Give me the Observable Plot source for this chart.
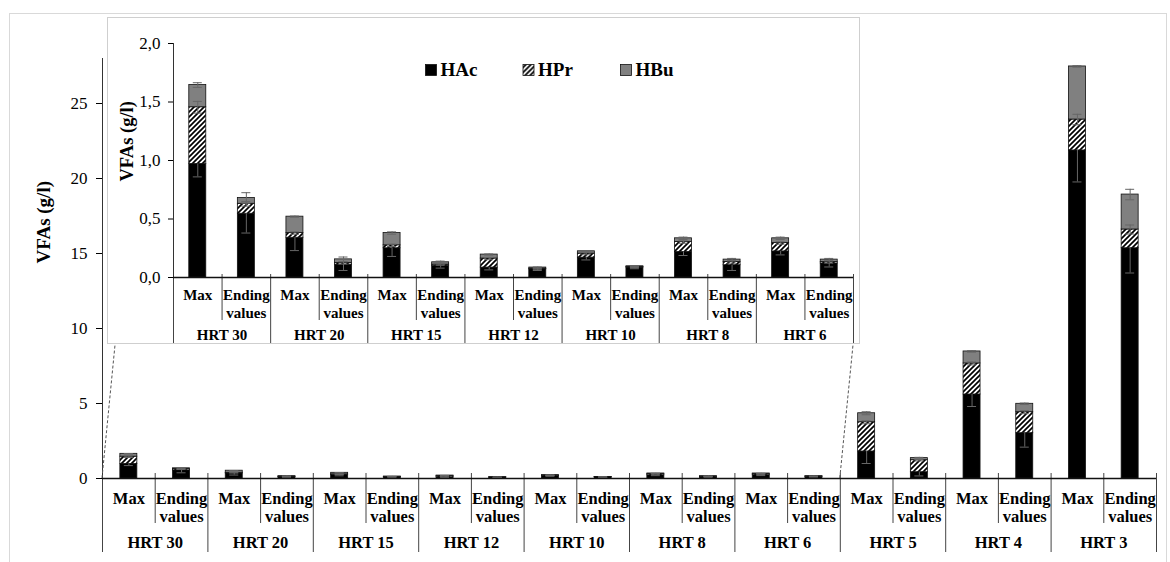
<!DOCTYPE html>
<html>
<head>
<meta charset="utf-8">
<script src="https://cdn.jsdelivr.net/npm/d3@7"></script>
<script src="https://cdn.jsdelivr.net/npm/@observablehq/plot@0.6"></script>
<style>
  body { margin: 0; background: #fff; }
  #wrap { position: relative; width: 1170px; height: 562px; overflow: hidden; font-family: "Liberation Serif", "DejaVu Serif", serif; }
  #wrap svg, #wrap svg text { font-family: "Liberation Serif", "DejaVu Serif", serif !important; }
  #frame { position: absolute; left: 9px; top: 13px; width: 1158px; height: 620px; border: 1px solid #d9d9d9; box-sizing: border-box; }
  #main { position: absolute; left: 0; top: 0; }
  #inset { position: absolute; left: 107px; top: 17px; width: 751px; height: 325px; border: 1px solid #cfcfcf; background: #fff; }
  #inset svg { display: block; }
  #legend { position: absolute; left: 317px; top: 40px; }
</style>
</head>
<body>
<svg width="0" height="0" style="position:absolute">
  <defs>
    <pattern id="hatch" patternUnits="userSpaceOnUse" width="5" height="5">
      <rect width="5" height="5" fill="#fff"></rect>
      <path d="M-1,1 l2,-2 M0,5 l5,-5 M4,6 l2,-2" stroke="#000" stroke-width="1.7"></path>
    </pattern>
  </defs>
</svg>
<div id="wrap">
  <div id="frame"></div>
  <div id="main"></div>
  <div id="inset"><div id="legend"></div></div>
</div>
<script>
// ---------- data ----------
const groups = ["HRT 30", "HRT 20", "HRT 15", "HRT 12", "HRT 10", "HRT 8", "HRT 6", "HRT 5", "HRT 4", "HRT 3"];
const subLabels = ["Max", "Ending\nvalues"];
const series = ["HAc", "HPr", "HBu"];
const seriesFill = ["#000000", "url(#hatch)", "#808080"];

// bars in order: group1 Max, group1 Ending, group2 Max, ...
const hac = [0.97, 0.545, 0.34, 0.11, 0.25, 0.10, 0.085, 0.07, 0.17, 0.085, 0.218, 0.105, 0.223, 0.12, 1.80, 0.42, 5.60, 3.02, 21.87, 15.35];
const hpr = [0.485, 0.085, 0.04, 0.015, 0.025, 0.01, 0.077, 0.005, 0.034, 0.005, 0.085, 0.028, 0.072, 0.013, 1.95, 0.80, 2.07, 1.40, 2.06, 1.25];
const hbu = [0.19, 0.05, 0.14, 0.03, 0.105, 0.02, 0.034, 0.01, 0.02, 0.006, 0.032, 0.02, 0.04, 0.02, 0.60, 0.14, 0.80, 0.56, 3.54, 2.33];

const errHac = [0.11, 0.165, 0.11, 0.05, 0.07, 0.02, 0.02, 0.01, 0.02, 0.01, 0.03, 0.045, 0.03, 0.03, 0.80, 0.25, 0.80, 0.93, 2.10, 1.65];
const errHpr = [0.05, 0.02, 0.01, 0.01, 0.01, 0.005, 0.01, 0.005, 0.01, 0.005, 0.01, 0.01, 0.01, 0.01, 0.10, 0.05, 0.10, 0.10, 0.35, 0.30];
const errHbu = [0.02, 0.045, 0.005, 0.02, 0.01, 0.01, 0.005, 0.005, 0.005, 0.005, 0.01, 0.01, 0.01, 0.01, 0.10, 0.05, 0.05, 0.05, 0.05, 0.35];
const errDirection = ["minus", "both", "both"];

const yTitle = "VFAs (g/l)";
const mainTicks = [0, 5, 10, 15, 20, 25];
const insetTicks = [0, 0.5, 1.0, 1.5, 2.0];
const insetGroupCount = 7;

// ---------- derived tables ----------
const values = [hac, hpr, hbu];
const errs = [errHac, errHpr, errHbu];
const nBars = groups.length * subLabels.length;
const segments = [], errorRows = [], capRows = [];
for (let i = 0; i < nBars; i++) {
  let base = 0;
  series.forEach((s, k) => {
    const top = base + values[k][i];
    segments.push({ i, series: s, y1: base, y2: top });
    const e = errs[k][i];
    const lo = top - e, hi = errDirection[k] === "minus" ? top : top + e;
    errorRows.push({ i, lo, hi });
    capRows.push({ i, v: lo });
    if (errDirection[k] !== "minus") capRows.push({ i, v: hi });
    base = top;
  });
}
const barLabels = d3.range(nBars).map(i => ({ i, text: subLabels[i % 2] }));
const groupLabels = groups.map((g, j) => ({ j, text: g }));

const fontFamily = "Liberation Serif, DejaVu Serif, serif";

function makeChart(cfg) {
  const n = cfg.nGroups * 2;
  const step = (cfg.width - cfg.marginLeft - cfg.marginRight) / n;
  const half = cfg.barPx / 2 / step;
  const capHalf = cfg.capPx / 2 / step;
  const frameH = cfg.height - cfg.marginTop - cfg.marginBottom;
  const segs = segments.filter(d => d.i < n);
  const ers = errorRows.filter(d => d.i < n && d.hi > d.lo);
  const caps = capRows.filter(d => d.i < n);
  const bounds = d3.range(0, n + 1);
  return Plot.plot({
    width: cfg.width, height: cfg.height,
    marginLeft: cfg.marginLeft, marginRight: cfg.marginRight,
    marginTop: cfg.marginTop, marginBottom: cfg.marginBottom,
    x: { domain: [0, n], axis: null },
    y: { domain: cfg.yDomain, axis: null },
    color: { type: "ordinal", domain: series, range: seriesFill },
    style: { fontFamily, fontSize: cfg.tickFont + "px", color: "#000", background: "transparent", overflow: "visible" },
    marks: [
      Plot.rect(segs, { x1: d => d.i + 0.5 - half, x2: d => d.i + 0.5 + half, y1: "y1", y2: "y2", fill: "series", stroke: "#111", strokeWidth: 0.8 }),
      Plot.ruleX(ers, { x: d => d.i + 0.5, y1: "lo", y2: "hi", stroke: "#666", strokeWidth: 1 }),
      Plot.ruleY(caps, { y: "v", x1: d => d.i + 0.5 - capHalf, x2: d => d.i + 0.5 + capHalf, stroke: "#666", strokeWidth: 1 }),
      // separators below the category axis
      Plot.ruleX(bounds.filter(b => b % 2 === 1), { x: d => d, insetTop: frameH - cfg.sepUp, insetBottom: -cfg.innerDown, stroke: "#444", strokeWidth: 1 }),
      Plot.ruleX(bounds.filter(b => b % 2 === 0), { x: d => d, insetTop: frameH - cfg.sepUp, insetBottom: -cfg.groupDown, stroke: "#444", strokeWidth: 1 }),
      Plot.ruleX([0], { stroke: "#333", strokeWidth: 1 }),
      Plot.ruleY([0], { stroke: "#111", strokeWidth: 1.5 }),
      Plot.axisY({ ticks: cfg.ticks, tickSize: cfg.tickSize, tickPadding: cfg.tickPadding, tickFormat: cfg.tickFormat, label: null, fontSize: cfg.tickFont }),
      Plot.text(barLabels.filter(d => d.i < n), { x: d => d.i + 0.5, text: "text", frameAnchor: "bottom", lineAnchor: "top", dy: cfg.subDy, lineHeight: cfg.lineHeight, fontWeight: "bold", fontSize: cfg.labelFont }),
      Plot.text(groupLabels.filter(d => d.j < cfg.nGroups), { x: d => d.j * 2 + 1, text: "text", frameAnchor: "bottom", lineAnchor: "top", dy: cfg.groupDy, fontWeight: "bold", fontSize: cfg.labelFont }),
      Plot.text([yTitle], { frameAnchor: "left", rotate: -90, dx: cfg.titleDx, dy: cfg.titleDy, fontWeight: "bold", fontSize: cfg.titleFont })
    ]
  });
}

const mainCfg = {
  nGroups: groups.length, width: 1170, height: 562,
  marginLeft: 102, marginRight: 14, marginTop: 58, marginBottom: 84,
  yDomain: [0, 28], ticks: mainTicks, tickFormat: d3.format("d"),
  tickSize: 6, tickPadding: 9, tickFont: 17,
  barPx: 17, capPx: 9,
  sepUp: 5, innerDown: 45, groupDown: 74,
  labelFont: 16.5, subDy: 12.3, lineHeight: 1.09, groupDy: 57.3,
  titleFont: 19, titleDx: -59, titleDy: -5
};
const insetCfg = {
  nGroups: insetGroupCount, width: 751, height: 325,
  marginLeft: 65, marginRight: 6, marginTop: 25, marginBottom: 66,
  yDomain: [0, 2], ticks: insetTicks, tickFormat: d => d.toFixed(1).replace(".", ","),
  tickSize: 5, tickPadding: 8, tickFont: 17,
  barPx: 17, capPx: 9,
  sepUp: 3, innerDown: 43, groupDown: 66,
  labelFont: 15, subDy: 9.7, lineHeight: 1.2, groupDy: 52,
  titleFont: 18.5, titleDx: -46, titleDy: 21
};

const mainChart = makeChart(mainCfg);
document.getElementById("main").appendChild(mainChart);
const insetChart = makeChart(insetCfg);
document.getElementById("inset").insertBefore(insetChart, document.getElementById("legend"));

// dashed connectors from the zoomed range on the main axis to the inset box
const sx = mainChart.scale("x"), sy = mainChart.scale("y");
const insetLeft = 108, insetBottom = 343, insetRight = 108 + 751;
const connectors = [
  { x1: sx.apply(0), y1: sy.apply(0), x2: insetLeft + 7, y2: insetBottom + 2 },
  { x1: sx.apply(insetGroupCount * 2), y1: sy.apply(0), x2: insetRight - 6, y2: insetBottom + 2 }
];
d3.select(mainChart).append("g").selectAll("line").data(connectors).join("line")
  .attr("x1", d => d.x1).attr("y1", d => d.y1).attr("x2", d => d.x2).attr("y2", d => d.y2)
  .attr("stroke", "#555").attr("stroke-width", 1).attr("stroke-dasharray", "3,2");

// legend inside the inset
const leg = d3.select("#legend").append("svg").attr("width", 380).attr("height", 30);
const item = leg.selectAll("g").data(series).join("g").attr("transform", (d, k) => `translate(${k * 97.5},0)`);
item.append("rect").attr("x", 0.5).attr("y", 6.5).attr("width", 11).attr("height", 11)
  .attr("fill", (d, k) => seriesFill[k]).attr("stroke", "#111").attr("stroke-width", 0.8);
item.append("text").attr("x", 15.5).attr("y", 18).text(d => d)
  .attr("font-family", fontFamily).attr("font-weight", "bold").attr("font-size", 19).attr("fill", "#000");
</script>
</body>
</html>
